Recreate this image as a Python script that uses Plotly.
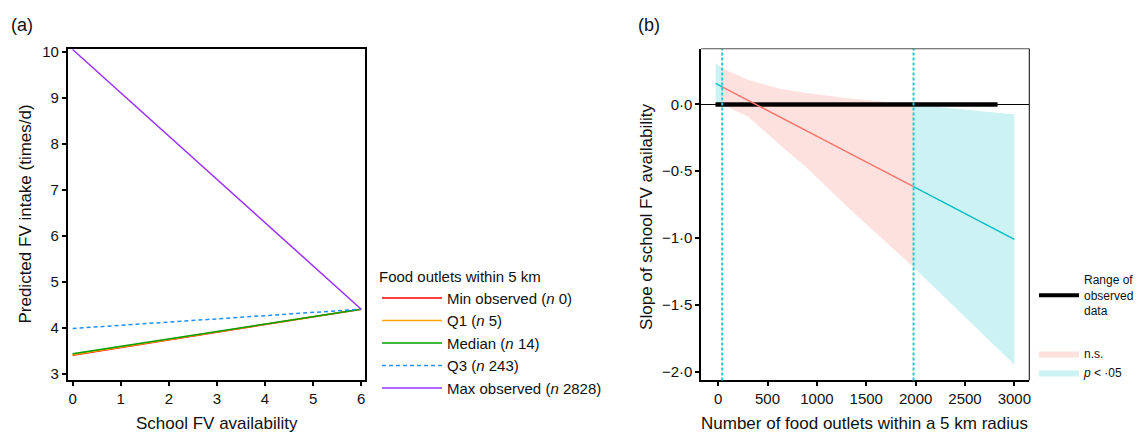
import plotly.graph_objects as go

# ---------------- Panel (a) data ----------------
school_fv = [0, 6]
series_names = ["Min observed (<i>n</i> 0)", "Q1 (<i>n</i> 5)", "Median (<i>n</i> 14)",
                "Q3 (<i>n</i> 243)", "Max observed (<i>n</i> 2828)"]
series_start = [3.40, 3.41, 3.43, 3.98, 10.05]
series_end = [4.40, 4.40, 4.40, 4.40, 4.40]
series_colors = ["#FF0000", "#FFA500", "#00A000", "#1E90FF", "#9B30FF"]
series_dash = ["solid", "solid", "solid", "4px,3px", "solid"]
a_xticks = [0, 1, 2, 3, 4, 5, 6]
a_yticks = [3, 4, 5, 6, 7, 8, 9, 10]

# ---------------- Panel (b) data ----------------
jn_points = [41, 1979]
slope_x = [-25, 41, 1979, 3000]
slope_y = [0.158, 0.132, -0.616, -1.01]
band_x = [-25, 41, 150, 300, 636, 875, 1313, 1979, 2500, 3000]
band_upper = [0.31, 0.27, 0.235, 0.185, 0.115, 0.088, 0.047, 0.0, -0.04, -0.075]
band_lower = [0.02, 0.0, -0.035, -0.09, -0.31, -0.46, -0.77, -1.22, -1.59, -1.95]
observed_range = [-25, 2828]
b_xticks = [0, 500, 1000, 1500, 2000, 2500, 3000]
b_yticks = [0.0, -0.5, -1.0, -1.5, -2.0]
b_yticktext = ["0·0", "−0·5", "−1·0", "−1·5", "−2·0"]

FONT = "Liberation Sans, Arial, sans-serif"
RED = "#F8766D"
CYAN = "#00BFC4"
RED_FILL = "rgba(248,118,109,0.22)"
CYAN_FILL = "rgba(0,191,196,0.2)"

W, H = 1139, 435


def px(x):
    return x / W


def py(y):
    y = y - 4 * (1 - y / 425)
    return 1 - y / H


fig = go.Figure()

# Panel (a) lines
for name, y0, y1, c, d in zip(series_names, series_start, series_end, series_colors, series_dash):
    fig.add_trace(go.Scatter(
        x=school_fv, y=[y0, y1], mode="lines", name=name,
        line=dict(color=c, width=1.5, dash=d),
        xaxis="x", yaxis="y", legend="legend"))

# observed range line (panel b) - legend entry
fig.add_trace(go.Scatter(
    x=observed_range, y=[0, 0], mode="lines", name="Range of<br>observed<br>data",
    line=dict(color="black", width=4), legend="legend2", legendgroup="range",
    legendrank=1, xaxis="x2", yaxis="y2"))


# Panel (b) bands
def seg(lo, hi):
    idx = [i for i, v in enumerate(band_x) if lo <= v <= hi]
    xs = [band_x[i] for i in idx]
    up = [band_upper[i] for i in idx]
    lw = [band_lower[i] for i in idx]
    return xs, up, lw


segments = [
    (band_x[0], jn_points[0], CYAN_FILL, "<i>p</i> < ·05", False, 3),
    (jn_points[0], jn_points[1], RED_FILL, "n.s.", True, 2),
    (jn_points[1], band_x[-1], CYAN_FILL, "<i>p</i> < ·05", True, 3),
]
for lo, hi, fc, nm, show, rank in segments:
    xs, up, lw = seg(lo, hi)
    fig.add_trace(go.Scatter(
        x=xs + xs[::-1], y=up + lw[::-1], fill="toself", fillcolor=fc,
        line=dict(width=0, color=fc), mode="lines", name=nm,
        showlegend=show, legend="legend2", legendgroup="sig", legendrank=rank,
        hoverinfo="skip", xaxis="x2", yaxis="y2"))

# redraw range line above bands
fig.add_trace(go.Scatter(
    x=observed_range, y=[0, 0], mode="lines", showlegend=False,
    line=dict(color="black", width=4), xaxis="x2", yaxis="y2"))

# slope line segments
slope_cols = [CYAN, RED, CYAN]
for i in range(3):
    fig.add_trace(go.Scatter(
        x=slope_x[i:i + 2], y=slope_y[i:i + 2], mode="lines",
        line=dict(color=slope_cols[i], width=1.5), showlegend=False,
        xaxis="x2", yaxis="y2"))

# Johnson-Neyman dashed lines
for jn in jn_points:
    fig.add_shape(type="line", xref="x2", yref="y2 domain", x0=jn, x1=jn, y0=0, y1=1,
                  line=dict(color="#22CCD4", width=2, dash="3px,2px"))

# panel (b) top / right border
fig.add_shape(type="line", xref="x2 domain", yref="y2 domain", x0=0, x1=1, y0=1, y1=1,
              line=dict(color="#555555", width=1.2))
fig.add_shape(type="line", xref="x2 domain", yref="y2 domain", x0=1, x1=1, y0=0, y1=1,
              line=dict(color="black", width=1))

ax_common = dict(ticks="outside", ticklen=4, tickwidth=2, tickcolor="black",
                 showgrid=False, showline=True, linecolor="black",
                 tickfont=dict(family=FONT, size=15, color="#111"))

fig.update_layout(
    width=W, height=H,
    margin=dict(l=0, r=0, t=0, b=0),
    paper_bgcolor="white", plot_bgcolor="white",
    font=dict(family=FONT, color="#111"),
    xaxis=dict(domain=[px(68), px(366)], range=[-0.1, 6.08], tickvals=a_xticks,
               mirror=True, linewidth=2, anchor="y", zeroline=False, **ax_common),
    yaxis=dict(domain=[py(381), py(47)], range=[2.85, 10.065],
               tickvals=a_yticks, mirror=True, linewidth=2, anchor="x", zeroline=False,
               **ax_common),
    xaxis2=dict(domain=[px(703), px(1032)], range=[-172, 3151], tickvals=b_xticks,
                linewidth=1.5, anchor="y2", zeroline=False, **ax_common),
    yaxis2=dict(domain=[py(381), py(47)], range=[-2.067, 0.417],
                tickvals=b_yticks, ticktext=b_yticktext, linewidth=1.5, anchor="x2",
                zeroline=True, zerolinecolor="black", zerolinewidth=1, **ax_common),
    legend=dict(x=px(378), y=py(262), xanchor="left", yanchor="top",
                bgcolor="rgba(0,0,0,0)", font=dict(family=FONT, size=15, color="#111"),
                title=dict(text="Food outlets within 5 km", font=dict(family=FONT, size=15)),
                tracegroupgap=0, itemwidth=60),
    legend2=dict(x=px(1037), y=py(265), xanchor="left", yanchor="top",
                 bgcolor="rgba(0,0,0,0)", font=dict(family=FONT, size=12, color="#111"),
                 traceorder="grouped", tracegroupgap=24, itemwidth=40),
    showlegend=True,
)

annots = [
    dict(text="(a)", x=22, y=23, size=18, angle=0),
    dict(text="(b)", x=651, y=23, size=18, angle=0),
    dict(text="Predicted FV intake (times/d)", x=26, y=213, size=17, angle=-90),
    dict(text="School FV availability", x=218, y=424, size=17, angle=0),
    dict(text="Slope of school FV availability", x=648, y=216, size=17, angle=-90),
    dict(text="Number of food outlets within a 5 km radius", x=867, y=424, size=17, angle=0),
]
for a in annots:
    fig.add_annotation(xref="paper", yref="paper", showarrow=False,
                       xanchor="center", yanchor="middle",
                       text=a["text"], x=px(a["x"]), y=py(a["y"]), textangle=a["angle"],
                       font=dict(family=FONT, color="#111", size=a["size"]))

fig.write_html("out.html", config={"displayModeBar": False},
               post_script="document.body.style.margin='0px';"
                           "document.body.style.overflow='hidden';")
